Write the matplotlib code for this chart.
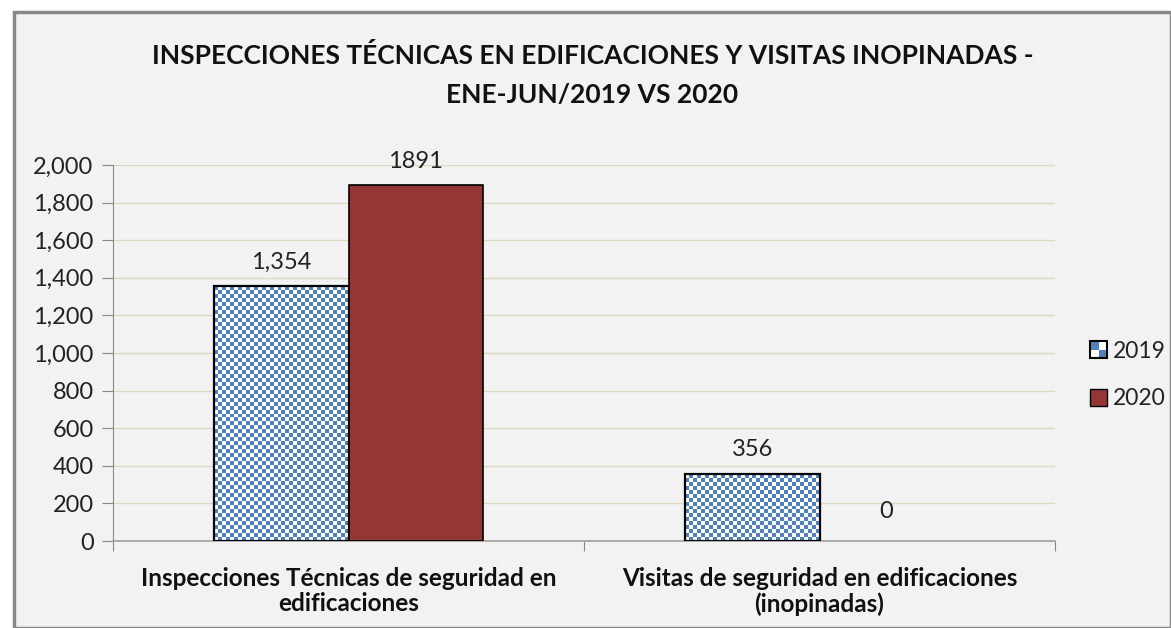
import numpy as np
import matplotlib
matplotlib.use("Agg")
import matplotlib.pyplot as plt
from matplotlib.patches import Rectangle
from matplotlib.legend_handler import HandlerBase
from matplotlib.colors import ListedColormap

categories = ["Inspecciones Técnicas de seguridad en\nedificaciones",
              "Visitas de seguridad en edificaciones\n(inopinadas)"]
series_names = ["2019", "2020"]
values_2019 = [1354, 356]
values_2020 = [1891, 0]
labels_2019 = ["1,354", "356"]
labels_2020 = ["1891", "0"]
yticks = [0, 200, 400, 600, 800, 1000, 1200, 1400, 1600, 1800, 2000]
title = "INSPECCIONES TÉCNICAS EN EDIFICACIONES Y VISITAS INOPINADAS -\nENE-JUN/2019 VS 2020"

FONT = "Lato"
BG = "#F2F2F2"
BLUE = "#4F81BD"
RED = "#943634"
TXT = "#222222"

W, H = 1171, 628
fig = plt.figure(figsize=(W/100, H/100), dpi=100)
fig.patch.set_facecolor("white")
fig.add_artist(Rectangle((14/W, 0), 1 - 14/W, 1 - 12/H, transform=fig.transFigure,
                         facecolor=BG, edgecolor="#888888", linewidth=2.5, zorder=-10))

ax = fig.add_axes([113/W, 1 - 541/H, (1055-113)/W, (541-165)/H])
ax.patch.set_alpha(0)

x = np.arange(len(categories))
bw = 0.285

bars19 = ax.bar(x - bw/2, values_2019, bw, facecolor="none", edgecolor="black", linewidth=1.6, zorder=3)
bars20 = ax.bar(x + bw/2, values_2020, bw, facecolor=RED, edgecolor="black", linewidth=1.2, zorder=3)
for b in bars20:
    if b.get_height() == 0:
        b.set_linewidth(0)
ax.set_xlim(-0.5, 1.5)
ax.set_ylim(0, 2000)

# checker fill for 2019 bars
cell_px = 4.0
cmap = ListedColormap(["white", BLUE])
for b in bars19:
    bx, by, bwid, bh = b.get_x(), b.get_y(), b.get_width(), b.get_height()
    p0 = ax.transData.transform((bx, by))
    p1 = ax.transData.transform((bx + bwid, by + bh))
    nx = max(1, int(round((p1[0]-p0[0]) / cell_px)))
    ny = max(1, int(round((p1[1]-p0[1]) / cell_px)))
    arr = (np.add.outer(np.arange(ny), np.arange(nx)) % 2).astype(float)
    ax.imshow(arr, cmap=cmap, vmin=0, vmax=1, extent=(bx, bx + bwid, by, by + bh), origin="lower",
              interpolation="nearest", aspect="auto", zorder=2.5)
ax.set_aspect("auto")
ax.set_xlim(-0.5, 1.5)
ax.set_ylim(0, 2000)

FS = 17
for bars, labs in ((bars19, labels_2019), (bars20, labels_2020)):
    for b, lab in zip(bars, labs):
        off = 17.5 if b.get_height() > 0 else 21
        ax.annotate(lab, (b.get_x() + b.get_width()/2, b.get_height()), xytext=(0, off),
                    textcoords="offset points", ha="center", va="center", fontsize=FS,
                    family=FONT, color=TXT)

ax.set_yticks(yticks)
ax.set_yticklabels([f"{v:,}" for v in yticks], family=FONT, fontsize=FS, color=TXT)
ax.yaxis.grid(True, color="#DDD8C4", linewidth=1, zorder=0)
ax.set_axisbelow(True)
ax.tick_params(axis="y", length=8, color="#888888", pad=6)
ax.set_xticks([-0.5, 0.5, 1.5])
ax.set_xticklabels([])
ax.tick_params(axis="x", length=7, color="#888888")
ax.set_xticks(x, minor=True)
ax.set_xticklabels(categories, minor=True, family=FONT, fontsize=17.5, fontweight="bold",
                   color="#111111", linespacing=1.1)
ax.tick_params(axis="x", which="minor", length=0, pad=19)
for s in ["top", "right"]:
    ax.spines[s].set_visible(False)
ax.spines["left"].set_color("#888888")
ax.spines["bottom"].set_color("#A0A0A0")
ax.spines["bottom"].set_linewidth(1.2)

fig.text(0.5 + 7/W, 1 - 75/H, title, ha="center", va="center", family=FONT, fontsize=19,
         fontweight="bold", color="#111111", linespacing=1.77)


class CheckerHandler(HandlerBase):
    def create_artists(self, legend, orig_handle, xdescent, ydescent, width, height, fontsize, trans):
        s = min(width, height)
        x0 = -xdescent + (width - s) / 2
        y0 = -ydescent + (height - s) / 2
        arts = []
        h = s / 2
        for i in range(2):
            for j in range(2):
                c = BLUE if (i + j) % 2 == 1 else "white"
                arts.append(Rectangle((x0 + i*h, y0 + j*h), h, h, facecolor=c, edgecolor="none", transform=trans))
        arts.append(Rectangle((x0, y0), s, s, facecolor="none", edgecolor="black", linewidth=1.5, transform=trans))
        return arts


class SquareHandler(HandlerBase):
    def create_artists(self, legend, orig_handle, xdescent, ydescent, width, height, fontsize, trans):
        s = min(width, height)
        x0 = -xdescent + (width - s) / 2
        y0 = -ydescent + (height - s) / 2
        return [Rectangle((x0, y0), s, s, facecolor=RED, edgecolor="black", linewidth=1, transform=trans)]


h1 = Rectangle((0, 0), 1, 1)
h2 = Rectangle((0, 0), 1, 1, facecolor=RED)
leg = fig.legend([h1, h2], series_names, handler_map={h1: CheckerHandler(), h2: SquareHandler()},
                 loc="center left", bbox_to_anchor=(1090/W, 1 - 375/H), frameon=False,
                 prop={"family": FONT, "size": 16.5}, handlelength=0.75, handleheight=0.75,
                 handletextpad=0.25, labelspacing=1.15, borderpad=0, borderaxespad=0)
for t in leg.get_texts():
    t.set_color(TXT)

fig.savefig("out.png", dpi=100, facecolor="white")
